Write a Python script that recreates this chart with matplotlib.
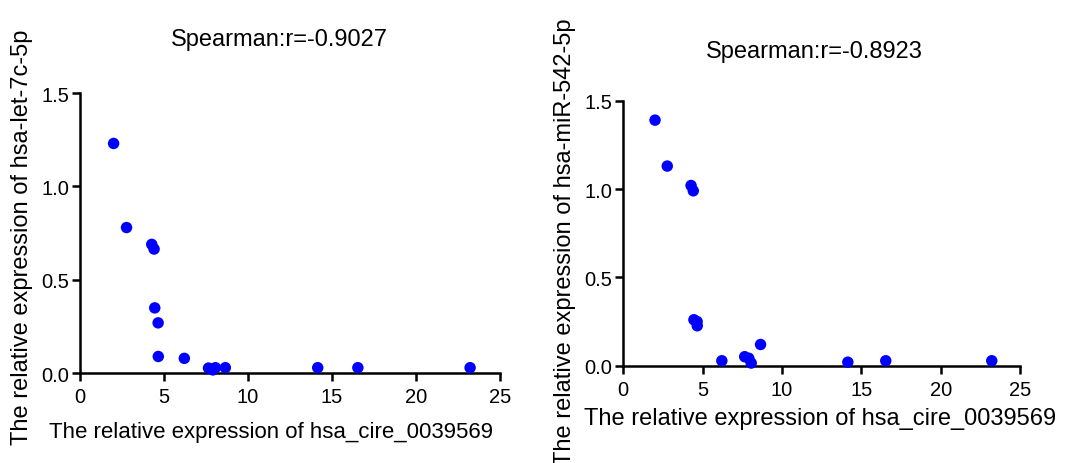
import matplotlib
matplotlib.use("Agg")
import matplotlib.pyplot as plt

plt.rcParams['font.family'] = ['Liberation Sans', 'DejaVu Sans']

# relative expression of hsa_cire_0039569 (shared x for both panels)
circ_expr = [2.0, 2.77, 4.27, 4.41, 4.45, 4.65, 4.66, 6.21, 7.65, 7.91, 8.06, 8.65, 14.15, 16.54, 23.22]
let7c_expr = [1.23, 0.78, 0.69, 0.665, 0.35, 0.27, 0.09, 0.08, 0.028, 0.018, 0.03, 0.03, 0.03, 0.03, 0.03]
mir542_expr = [1.39, 1.13, 1.02, 0.99, 0.26, 0.25, 0.226, 0.028, 0.051, 0.042, 0.015, 0.12, 0.02, 0.028, 0.028]

titles = ["Spearman:r=-0.9027", "Spearman:r=-0.8923"]
ylabels = ["The relative expression of hsa-let-7c-5p", "The relative expression of hsa-miR-542-5p"]
xlabel = "The relative expression of hsa_cire_0039569"
xticks = [0, 5, 10, 15, 20, 25]
yticks = [0.0, 0.5, 1.0, 1.5]

W, H = 1070, 464
fig = plt.figure(figsize=(W / 100, H / 100), dpi=100)

def px_axes(left, top, right, bottom):
    return fig.add_axes([left / W, 1 - bottom / H, (right - left) / W, (bottom - top) / H])

# axes, y data, title pos, xlabel pos, xlabel size, ylabel pos
panels = [
    (px_axes(80, 94, 500, 374.3), let7c_expr, (279, 40), (271, 433), 16, (22, 237)),
    (px_axes(623.3, 101.7, 1020, 366.7), mir542_expr, (814, 52), (820, 419), 17, (565, 242)),
]

for i, (ax, yvals, tpos, xlpos, xlsize, ylpos) in enumerate(panels):
    ax.scatter(circ_expr, yvals, s=68, color='#0000ff', edgecolors='none', clip_on=False, zorder=3)
    ax.set_xlim(0, 25)
    ax.set_ylim(0, 1.5)
    ax.set_xticks(xticks)
    ax.set_yticks(yticks)
    ax.set_yticklabels(['0.0', '0.5', '1.0', '1.5'])
    for s in ['top', 'right']:
        ax.spines[s].set_visible(False)
    for s in ['left', 'bottom']:
        ax.spines[s].set_linewidth(1.8)
    ax.tick_params(direction='out', length=6, width=1.8, labelsize=14.5, colors='black')
    ax.tick_params(axis='x', pad=4)
    ax.tick_params(axis='y', pad=2)

    fig.text(tpos[0] / W, 1 - tpos[1] / H, titles[i], ha='center', va='center', fontsize=17)
    fig.text(xlpos[0] / W, 1 - xlpos[1] / H, xlabel, ha='center', va='center', fontsize=xlsize)
    fig.text(ylpos[0] / W, 1 - ylpos[1] / H, ylabels[i], ha='center', va='center',
             rotation=90, fontsize=17)

fig.savefig("out.png", dpi=100)
